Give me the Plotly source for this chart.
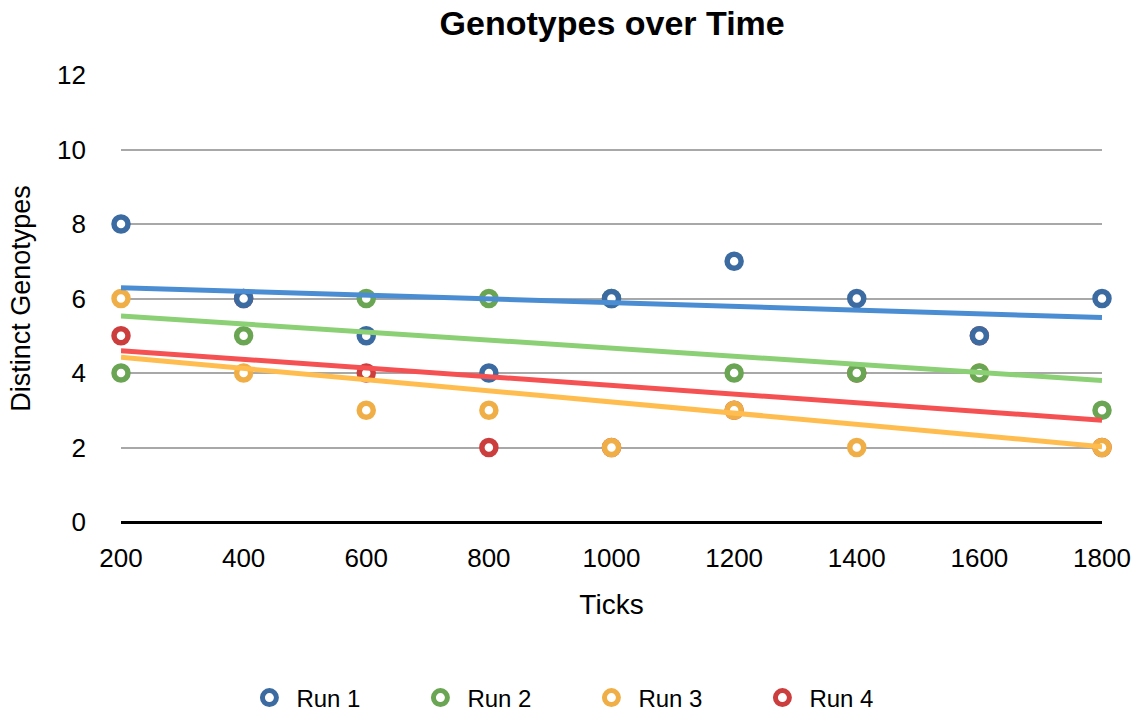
import numpy as np
import plotly.graph_objects as go

ticks = [200, 400, 600, 800, 1000, 1200, 1400, 1600, 1800]
run1 = [8, 6, 5, 4, 6, 7, 6, 5, 6]
run2 = [4, 5, 6, 6, 6, 4, 4, 4, 3]
run3 = [6, 4, 3, 3, 2, 3, 2, 4, 2]
run4 = [5, 6, 4, 2, 2, 3, 4, 5, 2]

names = ["Run 1", "Run 2", "Run 3", "Run 4"]
series = [run1, run2, run3, run4]
marker_colors = ["#3b6ba1", "#6aa553", "#f0ae46", "#cc3d3d"]
trend_colors = ["#4b8dd2", "#8bd074", "#ffbd4f", "#f65152"]

FONT = "Liberation Sans, Arial, Helvetica, sans-serif"

fig = go.Figure()

# markers: Run 1 drawn last so it sits on top
for i in reversed(range(4)):
    fig.add_trace(go.Scatter(
        x=ticks, y=series[i], mode="markers", name=names[i],
        legendrank=i + 1,
        marker=dict(symbol="circle", size=14, color="white",
                    line=dict(color=marker_colors[i], width=5.5)),
        cliponaxis=False,
    ))

# linear trend lines computed from the data
xa = np.array(ticks, dtype=float)
for i in range(4):
    m, b = np.polyfit(xa, np.array(series[i], dtype=float), 1)
    xs = [ticks[0], ticks[-1]]
    ys = [m * x + b for x in xs]
    fig.add_trace(go.Scatter(
        x=xs, y=ys, mode="lines", showlegend=False, hoverinfo="skip",
        line=dict(color=trend_colors[i], width=5),
        cliponaxis=False,
    ))

fig.update_layout(
    width=1143, height=715,
    margin=dict(l=121, r=38, t=75, b=193),
    paper_bgcolor="white", plot_bgcolor="white",
    font=dict(family=FONT, size=25, color="black"),
    title=dict(text="<b>Genotypes over Time</b>", x=0.5356, xref="container",
               xanchor="center", y=1 - 23 / 715, yref="container", yanchor="middle",
               font=dict(family=FONT, size=34, color="black")),
    showlegend=True,
    legend=dict(orientation="h", x=0.5113, xref="container", xanchor="center",
                y=1 - 698 / 715, yref="container", yanchor="middle",
                font=dict(family=FONT, size=24, color="black"),
                itemsizing="trace", traceorder="normal", itemwidth=44,
                entrywidth=112, entrywidthmode="pixels"),
    xaxis=dict(range=[200, 1800], tickvals=ticks, ticktext=[str(t) for t in ticks],
               showgrid=False, zeroline=False, showline=False,
               ticks="", ticklabelstandoff=18,
               tickfont=dict(family=FONT, size=26, color="black"),
               title=dict(text="Ticks", standoff=22, font=dict(family=FONT, size=28))),
    yaxis=dict(range=[0, 12], tickvals=[0, 2, 4, 6, 8, 10, 12],
               showgrid=True, gridcolor="#a8a8a8", gridwidth=2,
               zeroline=True, zerolinecolor="black", zerolinewidth=2.5,
               showline=False, ticks="", ticklabelstandoff=34,
               tickfont=dict(family=FONT, size=26, color="black"),
               title=dict(text="Distinct Genotypes", standoff=18, font=dict(family=FONT, size=27))),
)

fig.write_html("out.html")
